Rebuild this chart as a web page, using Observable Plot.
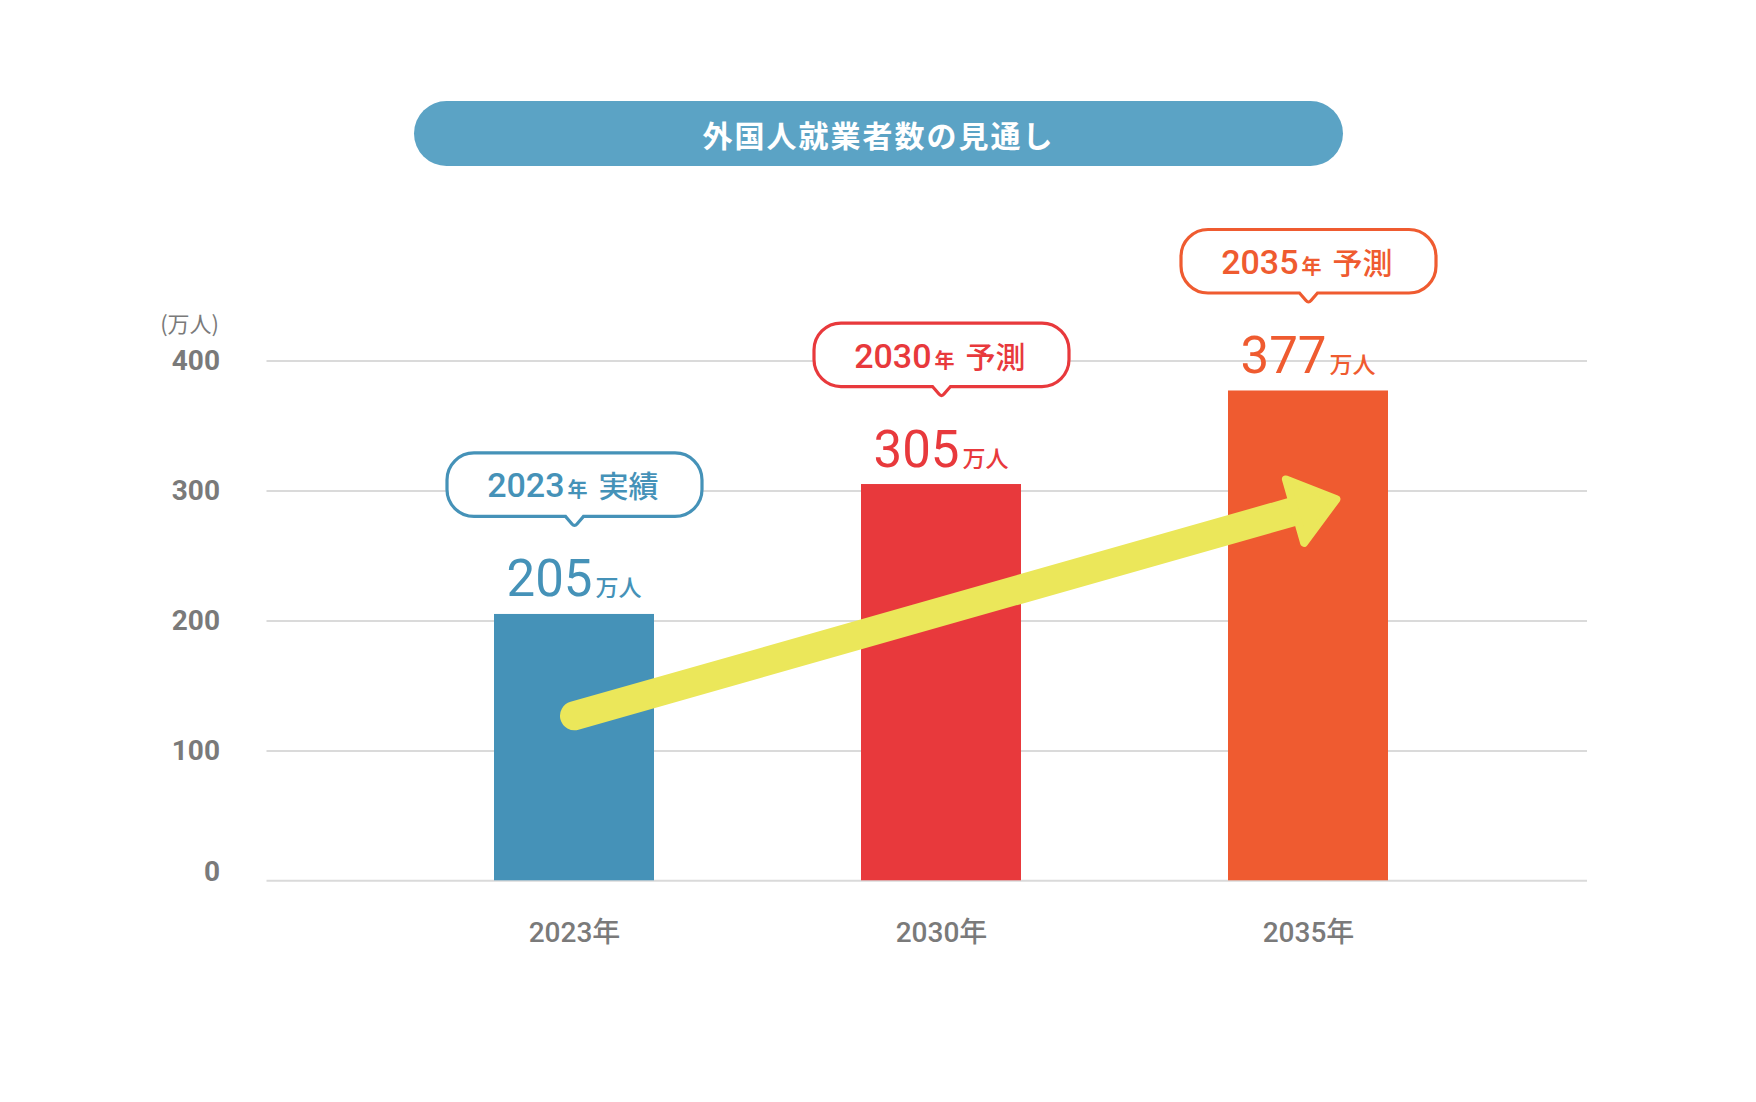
<!DOCTYPE html>
<html><head><meta charset="utf-8">
<script src="https://cdn.jsdelivr.net/npm/d3@7"></script>
<script src="https://cdn.jsdelivr.net/npm/@observablehq/plot@0.6"></script>
<style>
body{margin:0;background:#fff;}
#wrap{width:1756px;height:1102px;position:relative;overflow:hidden;background:#fff;}
#title{position:absolute;left:414px;top:101px;width:929px;height:65px;border-radius:32.5px;background:#5ba3c5;color:#fff;font:700 30px "Noto Sans CJK JP";letter-spacing:2px;display:flex;align-items:center;justify-content:center;}
#chart{position:absolute;left:0;top:190px;}
</style></head><body>
<div id="wrap"><div id="title">外国人就業者数の見通し</div><div id="chart"></div></div>
<script>
// ---- data ----
const years = ["2023年", "2030年", "2035年"];
const yearNums = ["2023", "2030", "2035"];
const statusLabels = ["実績", "予測", "予測"];
const values = [205, 305, 377];
const colors = ["#4592b8", "#e8393c", "#ef5b30"];
const yTicks = [0, 100, 200, 300, 400];
const unitLabel = "万人";
const yAxisLabel = "(万人)";
const arrowYears = ["2023年", "2035年"];
const arrowValues = [127, 287.5];

const data = years.map((year, i) => ({year, num: yearNums[i], status: statusLabels[i], value: values[i], color: colors[i]}));
const arrow = [{x1: arrowYears[0], y1: arrowValues[0], x2: arrowYears[1], y2: arrowValues[1]}];

const NUM = "Roboto, 'Noto Sans CJK JP', sans-serif";
const JP = "'Noto Sans CJK JP', sans-serif";
const GRAY = "#7a7a7a";
const YELLOW = "#ebe75a";

const bubbleSymbol = {
  draw(ctx) {
    const hw = 127.5, top = -74.5, bot = -11, r = 27, pw = 9;
    ctx.moveTo(-hw + r, top);
    ctx.lineTo(hw - r, top);
    ctx.arcTo(hw, top, hw, top + r, r);
    ctx.lineTo(hw, bot - r);
    ctx.arcTo(hw, bot, hw - r, bot, r);
    ctx.lineTo(pw, bot);
    ctx.lineTo(2.5, -3.5);
    ctx.quadraticCurveTo(0, -0.5, -2.5, -3.5);
    ctx.lineTo(-pw, bot);
    ctx.lineTo(-hw + r, bot);
    ctx.arcTo(-hw, bot, -hw, bot - r, r);
    ctx.lineTo(-hw, top + r);
    ctx.arcTo(-hw, top, -hw + r, top, r);
    ctx.closePath();
  }
};
const headSymbol = {
  draw(ctx) {
    ctx.moveTo(0, -29);
    ctx.lineTo(33, 14);
    ctx.lineTo(-33, 14);
    ctx.closePath();
  }
};

const chart = Plot.plot({
  width: 1756,
  height: 912,
  marginLeft: 266.5,
  marginRight: 169,
  marginTop: 170.6,
  marginBottom: 221.7,
  style: {background: "transparent", overflow: "visible"},
  x: {domain: years, range: [390.5, 1491.5], paddingInner: 0.564, paddingOuter: 0.282, axis: null},
  y: {domain: [0, 400], axis: null},
  color: {type: "identity"},
  marks: [
    Plot.ruleY(yTicks, {stroke: "#dadada", strokeWidth: 2}),
    Plot.text(yTicks.filter(d => d > 0), {y: d => d, text: d => String(d), frameAnchor: "left", textAnchor: "end", dx: -47, fontSize: 28, fontWeight: 700, fontFamily: NUM, fill: GRAY}),
    Plot.text(yTicks.filter(d => d === 0), {y: d => d, text: d => String(d), frameAnchor: "left", textAnchor: "end", dx: -47, dy: -9, fontSize: 28, fontWeight: 700, fontFamily: NUM, fill: GRAY}),
    Plot.text([yTicks[yTicks.length - 1]], {y: d => d, text: () => yAxisLabel, frameAnchor: "left", textAnchor: "end", dx: -48, dy: -36, fontSize: 22, fontFamily: JP, fill: GRAY}),
    Plot.barY(data, {x: "year", y: "value", fill: "color"}),
    Plot.text(data, {x: "year", text: "year", frameAnchor: "bottom", dy: 61, fontSize: 28, fontWeight: 500, fontFamily: NUM, fill: GRAY}),
    Plot.link(arrow, {x1: "x1", y1: "y1", x2: "x2", y2: "y2", stroke: YELLOW, strokeWidth: 29, strokeLinecap: "round"}),
    Plot.dot([arrow[0]], {x: "x2", y: "y2", symbol: headSymbol, r: 10, rotate: 74, fill: YELLOW, stroke: YELLOW, strokeWidth: 8, strokeLinejoin: "round"}),
    Plot.text(data, {x: "year", y: "value", text: d => String(d.value), textAnchor: "end", lineAnchor: "bottom", dx: 18, dy: -18, fontSize: 51, fontWeight: 400, fontFamily: NUM, fill: "color"}),
    Plot.text(data, {x: "year", y: "value", text: () => unitLabel, textAnchor: "start", lineAnchor: "bottom", dx: 21, dy: -18, fontSize: 23, fontWeight: 500, fontFamily: JP, fill: "color"}),
    Plot.dot(data, {x: "year", y: "value", dy: -87, symbol: bubbleSymbol, r: 10, fill: "white", stroke: "color", strokeWidth: 3.2}),
    Plot.text(data, {x: "year", y: "value", text: "num", textAnchor: "end", lineAnchor: "bottom", dx: -10, dy: -117, fontSize: 34, fontWeight: 500, fontFamily: NUM, fill: "color"}),
    Plot.text(data, {x: "year", y: "value", text: () => "年", textAnchor: "start", lineAnchor: "bottom", dx: -7, dy: -117, fontSize: 20, fontWeight: 700, fontFamily: JP, fill: "color"}),
    Plot.text(data, {x: "year", y: "value", text: "status", textAnchor: "start", lineAnchor: "bottom", dx: 24, dy: -117, fontSize: 30, fontWeight: 500, fontFamily: JP, fill: "color"})
  ]
});
document.getElementById("chart").appendChild(chart);
</script>
</body></html>
